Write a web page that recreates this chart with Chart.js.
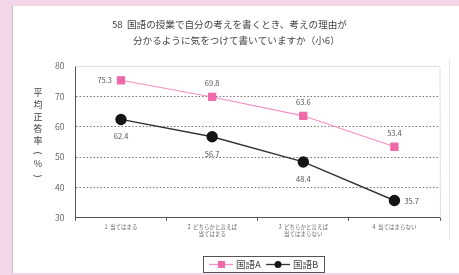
<!DOCTYPE html>
<html><head><meta charset="utf-8">
<script src="https://cdn.jsdelivr.net/npm/chart.js@4"></script>
<style>html,body{margin:0;padding:0;background:#f3d6e7;}#wrap{width:459px;height:275px;position:relative;}</style>
</head><body><div id="wrap"><canvas id="c" width="459" height="275"></canvas></div>
<script>
const titleLines = ["58  国語の授業で自分の考えを書くとき、考えの理由が", "分かるように気をつけて書いていますか（小6）"];
const categories = [["1  当てはまる"], ["2  どちらかと言えば", "当てはまる"], ["3  どちらかと言えば", "当てはまらない"], ["4  当てはまらない"]];
const seriesNames = ["国語A", "国語B"];
const valuesA = [75.3, 69.8, 63.6, 53.4];
const valuesB = [62.4, 56.7, 48.4, 35.7];
const yTitle = "平均正答率（%）";
const yMin = 30, yMax = 80, yStep = 10;

const FONT = "'Noto Sans CJK JP', 'Noto Sans', sans-serif";
const pink = '#ee6aa9', pinkLine = '#f08fc2', dark = '#151515', darkLine = '#333333';

const decor = {
  id: 'decor',
  beforeDraw(chart) {
    const ctx = chart.ctx;
    ctx.save();
    ctx.fillStyle = '#f3d6e7';
    ctx.fillRect(0, 0, 459, 275);
    ctx.fillStyle = '#ffffff';
    ctx.fillRect(12, 6, 447, 267);
    ctx.strokeStyle = '#c8c0c4';
    ctx.lineWidth = 1;
    ctx.beginPath(); ctx.moveTo(12.5, 6); ctx.lineTo(12.5, 273); ctx.stroke();
    ctx.strokeStyle = '#e4e4e4';
    ctx.beginPath(); ctx.moveTo(449.5, 60); ctx.lineTo(449.5, 240); ctx.stroke();
    // title
    ctx.fillStyle = '#444';
    ctx.font = "9.6px " + FONT;
    ctx.textAlign = 'left'; ctx.textBaseline = 'middle';
    ctx.fillText(titleLines[0], 112, 24);
    ctx.fillText(titleLines[1], 133, 40);
    // y title stacked
    ctx.font = "9px " + FONT;
    ctx.textAlign = 'center';
    const chars = Array.from(yTitle);
    let y = 93;
    chars.forEach(ch => {
      if (ch === '（' || ch === '）') {
        ctx.save(); ctx.translate(38, y); ctx.rotate(Math.PI / 2); ctx.fillText(ch === '（' ? '(' : ')', 0, 0); ctx.restore();
        y += 11;
      } else { ctx.fillText(ch, 38, y); y += 12; }
    });
    ctx.restore();
  },
  afterDatasetsDraw(chart) {
    const ctx = chart.ctx;
    const a = chart.chartArea;
    ctx.save();
    ctx.strokeStyle = '#e0e0e0'; ctx.lineWidth = 1;
    ctx.beginPath(); ctx.moveTo(a.left, a.top + 0.5); ctx.lineTo(a.right, a.top + 0.5); ctx.lineTo(a.right + 0.5, a.bottom); ctx.stroke();
    ctx.fillStyle = '#555';
    ctx.font = "7.5px " + FONT;
    ctx.textBaseline = 'middle';
    const mA = chart.getDatasetMeta(0).data, mB = chart.getDatasetMeta(1).data;
    valuesA.forEach((v, i) => {
      const p = mA[i];
      if (i === 0) { ctx.textAlign = 'right'; ctx.fillText(v.toFixed(1), p.x - 9, p.y); }
      else { ctx.textAlign = 'center'; ctx.fillText(v.toFixed(1), p.x, p.y - 14); }
    });
    valuesB.forEach((v, i) => {
      const p = mB[i];
      if (i === valuesB.length - 1) { ctx.textAlign = 'left'; ctx.fillText(v.toFixed(1), p.x + 10, p.y + 1); }
      else { ctx.textAlign = 'center'; ctx.fillText(v.toFixed(1), p.x, p.y + 17); }
    });
    // legend
    const lx = 203, ly = 256, lw = 121, lh = 16;
    ctx.strokeStyle = '#555'; ctx.lineWidth = 1;
    ctx.strokeRect(lx + 0.5, ly + 0.5, lw, lh);
    const cy = ly + lh / 2 + 0.5;
    const items = [{x: lx + 6, ds: chart.data.datasets[0]}, {x: lx + 63, ds: chart.data.datasets[1]}];
    items.forEach(it => {
      ctx.strokeStyle = it.ds.borderColor; ctx.lineWidth = 1.3;
      ctx.beginPath(); ctx.moveTo(it.x, cy); ctx.lineTo(it.x + 24, cy); ctx.stroke();
      ctx.fillStyle = it.ds.pointBackgroundColor;
      if (it.ds.pointStyle === 'rect') ctx.fillRect(it.x + 9, cy - 3.5, 7, 7);
      else { ctx.beginPath(); ctx.arc(it.x + 12, cy, 3.5, 0, Math.PI * 2); ctx.fill(); }
      ctx.fillStyle = '#444'; ctx.font = "9.5px " + FONT; ctx.textAlign = 'left';
      ctx.fillText(it.ds.label, it.x + 27, cy);
    });
    ctx.restore();
  }
};

new Chart(document.getElementById('c'), {
  type: 'line',
  data: {
    labels: categories,
    datasets: [
      { label: seriesNames[0], data: valuesA, borderColor: pinkLine, borderWidth: 1.2, pointStyle: 'rect', pointRadius: 5, pointBackgroundColor: pink, pointBorderColor: pink, tension: 0 },
      { label: seriesNames[1], data: valuesB, borderColor: darkLine, borderWidth: 1.4, pointStyle: 'circle', pointRadius: 5, pointBackgroundColor: dark, pointBorderColor: dark, tension: 0 }
    ]
  },
  options: {
    responsive: false, animation: false, devicePixelRatio: 1,
    layout: { padding: { left: 44, right: 19, top: 66, bottom: 35 } },
    plugins: { legend: { display: false }, tooltip: { enabled: false } },
    scales: {
      x: {
        offset: true,
        grid: { display: true, offset: true, drawOnChartArea: false, drawTicks: true, tickLength: 3, color: '#555' },
        border: { display: true, color: '#555', width: 1 },
        ticks: { color: '#666', font: { size: 5.5, family: FONT }, padding: 3, maxRotation: 0, autoSkip: false }
      },
      y: {
        min: yMin, max: yMax,
        grid: { display: true, drawTicks: false, color: (c) => (c.tick.value > yMin && c.tick.value < yMax) ? '#777' : 'rgba(0,0,0,0)', lineWidth: 1 },
        border: { display: true, color: '#555', width: 1, dash: [1.5, 2] },
        ticks: { stepSize: yStep, color: '#666', font: { size: 8.5, family: FONT }, padding: 11 }
      }
    }
  },
  plugins: [decor]
});
</script></body></html>
